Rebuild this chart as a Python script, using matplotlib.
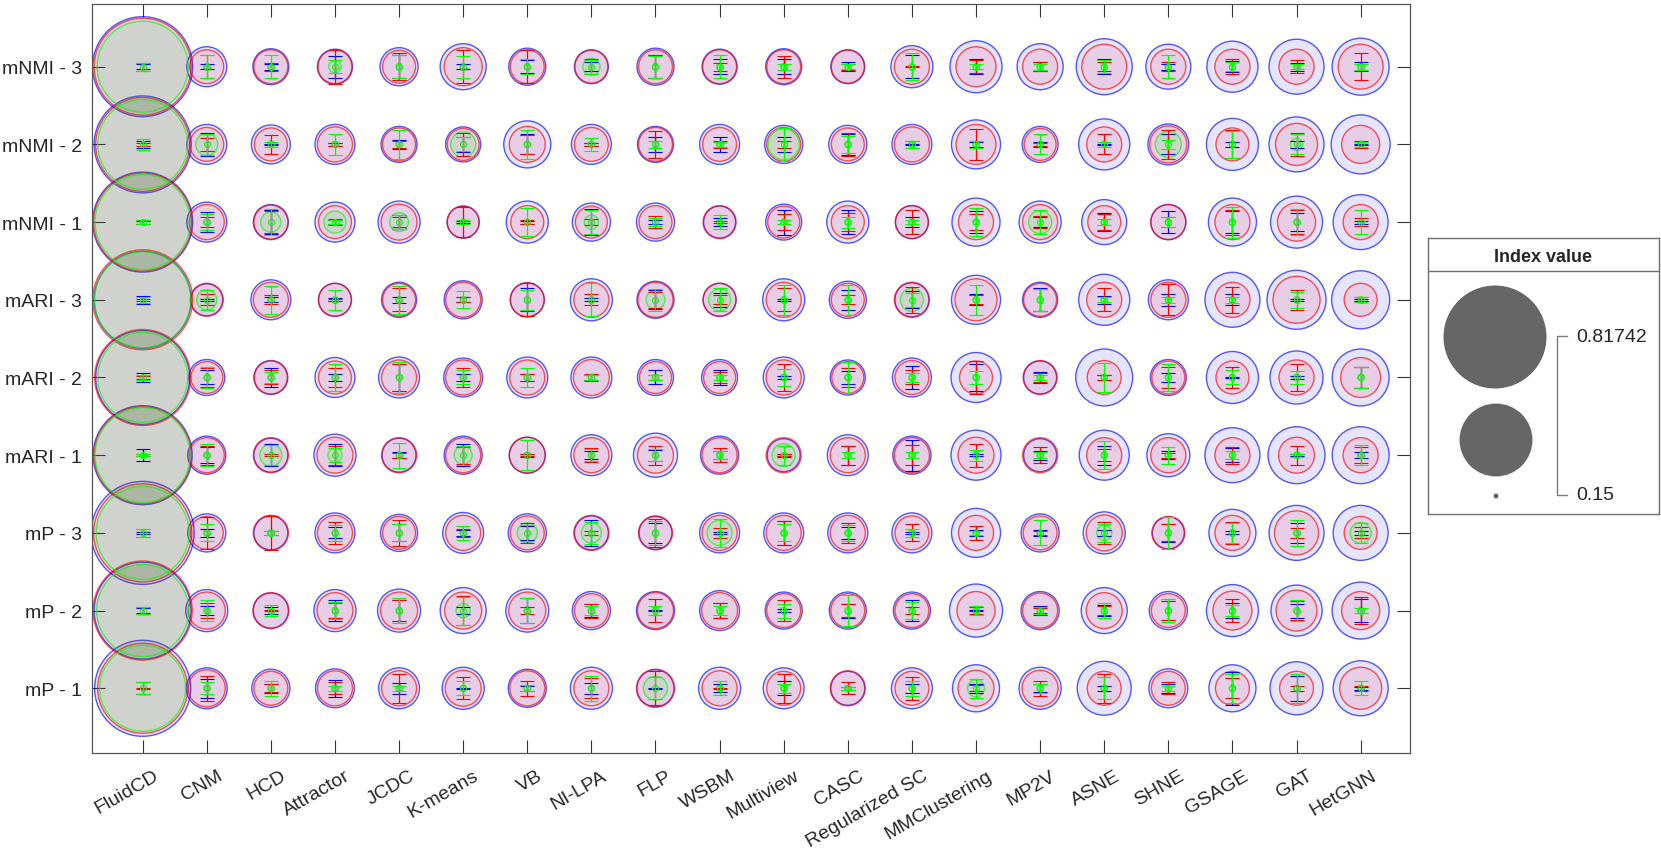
import numpy as np
import matplotlib.pyplot as plt
from matplotlib.transforms import ScaledTranslation

plt.rcParams['font.family'] = ['Liberation Sans', 'DejaVu Sans']

# methods along x, metrics along y (listed top to bottom)
methods = ["FluidCD", "CNM", "HCD", "Attractor", "JCDC", "K-means", "VB", "NI-LPA",
           "FLP", "WSBM", "Multiview", "CASC", "Regularized SC", "MMClustering",
           "MP2V", "ASNE", "SHNE", "GSAGE", "GAT", "HetGNN"]
metrics = ["mNMI - 3", "mNMI - 2", "mNMI - 1", "mARI - 3", "mARI - 2", "mARI - 1",
           "mP - 3", "mP - 2", "mP - 1"]

# index values (bubble size), one row per metric
blue_val = [
    [0.779, 0.249, 0.230, 0.226, 0.240, 0.282, 0.235, 0.221, 0.235, 0.226, 0.230, 0.221, 0.260, 0.319, 0.282, 0.346, 0.276, 0.313, 0.339, 0.353],
    [0.742, 0.249, 0.244, 0.249, 0.230, 0.226, 0.288, 0.249, 0.230, 0.249, 0.240, 0.240, 0.249, 0.300, 0.230, 0.313, 0.254, 0.319, 0.339, 0.368],
    [0.779, 0.249, 0.226, 0.249, 0.260, 0.213, 0.260, 0.240, 0.240, 0.213, 0.230, 0.260, 0.217, 0.294, 0.260, 0.276, 0.226, 0.294, 0.319, 0.339],
    [0.742, 0.213, 0.249, 0.217, 0.226, 0.240, 0.221, 0.260, 0.235, 0.217, 0.260, 0.235, 0.221, 0.300, 0.226, 0.313, 0.249, 0.339, 0.368, 0.361],
    [0.706, 0.230, 0.221, 0.249, 0.254, 0.244, 0.254, 0.254, 0.230, 0.230, 0.254, 0.226, 0.244, 0.306, 0.217, 0.353, 0.230, 0.319, 0.326, 0.353],
    [0.767, 0.240, 0.221, 0.260, 0.221, 0.240, 0.230, 0.254, 0.271, 0.240, 0.217, 0.254, 0.240, 0.306, 0.217, 0.306, 0.265, 0.339, 0.353, 0.353],
    [0.81742, 0.240, 0.221, 0.249, 0.235, 0.254, 0.240, 0.221, 0.217, 0.249, 0.249, 0.249, 0.249, 0.300, 0.240, 0.260, 0.213, 0.288, 0.339, 0.339],
    [0.742, 0.260, 0.226, 0.260, 0.265, 0.282, 0.265, 0.240, 0.240, 0.249, 0.235, 0.235, 0.235, 0.326, 0.240, 0.282, 0.240, 0.319, 0.313, 0.353],
    [0.730, 0.254, 0.240, 0.244, 0.254, 0.260, 0.240, 0.260, 0.235, 0.260, 0.254, 0.221, 0.254, 0.288, 0.260, 0.332, 0.244, 0.288, 0.326, 0.339],
]
red_val = [
    [0.742, 0.221, 0.221, 0.221, 0.217, 0.240, 0.221, 0.217, 0.221, 0.221, 0.221, 0.217, 0.226, 0.249, 0.226, 0.276, 0.226, 0.226, 0.226, 0.276],
    [0.706, 0.221, 0.217, 0.226, 0.217, 0.213, 0.230, 0.221, 0.221, 0.221, 0.221, 0.217, 0.226, 0.249, 0.213, 0.226, 0.235, 0.217, 0.260, 0.240],
    [0.754, 0.226, 0.221, 0.217, 0.230, 0.213, 0.217, 0.213, 0.217, 0.217, 0.213, 0.217, 0.217, 0.226, 0.226, 0.217, 0.226, 0.226, 0.240, 0.226],
    [0.779, 0.217, 0.226, 0.217, 0.217, 0.226, 0.221, 0.226, 0.226, 0.217, 0.226, 0.217, 0.226, 0.260, 0.217, 0.226, 0.226, 0.226, 0.288, 0.217],
    [0.730, 0.213, 0.217, 0.217, 0.226, 0.226, 0.226, 0.230, 0.213, 0.213, 0.226, 0.213, 0.221, 0.217, 0.221, 0.221, 0.217, 0.217, 0.226, 0.249],
    [0.742, 0.226, 0.226, 0.230, 0.226, 0.226, 0.230, 0.226, 0.230, 0.226, 0.226, 0.226, 0.226, 0.230, 0.226, 0.226, 0.226, 0.226, 0.230, 0.226],
    [0.754, 0.217, 0.226, 0.226, 0.217, 0.226, 0.221, 0.226, 0.221, 0.226, 0.226, 0.226, 0.221, 0.226, 0.221, 0.230, 0.217, 0.226, 0.271, 0.217],
    [0.767, 0.235, 0.230, 0.230, 0.235, 0.235, 0.235, 0.221, 0.230, 0.230, 0.221, 0.221, 0.221, 0.240, 0.226, 0.230, 0.221, 0.244, 0.254, 0.240],
    [0.659, 0.235, 0.221, 0.226, 0.226, 0.230, 0.226, 0.226, 0.240, 0.226, 0.221, 0.226, 0.221, 0.230, 0.230, 0.221, 0.221, 0.221, 0.221, 0.260],
]
green_val = [
    [0.671, 0.151, 0.151, 0.158, 0.151, 0.151, 0.151, 0.167, 0.151, 0.151, 0.151, 0.151, 0.151, 0.151, 0.151, 0.151, 0.151, 0.151, 0.151, 0.151],
    [0.659, 0.179, 0.151, 0.151, 0.151, 0.188, 0.151, 0.151, 0.151, 0.151, 0.209, 0.151, 0.151, 0.151, 0.151, 0.151, 0.191, 0.151, 0.158, 0.151],
    [0.718, 0.151, 0.174, 0.179, 0.171, 0.151, 0.151, 0.161, 0.151, 0.151, 0.151, 0.151, 0.151, 0.151, 0.182, 0.151, 0.151, 0.151, 0.151, 0.151],
    [0.730, 0.174, 0.151, 0.151, 0.151, 0.151, 0.151, 0.151, 0.171, 0.179, 0.151, 0.151, 0.182, 0.151, 0.151, 0.151, 0.151, 0.151, 0.151, 0.151],
    [0.659, 0.151, 0.151, 0.151, 0.151, 0.151, 0.151, 0.151, 0.151, 0.151, 0.151, 0.151, 0.151, 0.151, 0.151, 0.151, 0.151, 0.151, 0.151, 0.151],
    [0.718, 0.151, 0.179, 0.161, 0.151, 0.169, 0.151, 0.151, 0.151, 0.151, 0.182, 0.151, 0.151, 0.151, 0.151, 0.151, 0.151, 0.151, 0.151, 0.151],
    [0.694, 0.151, 0.151, 0.151, 0.151, 0.151, 0.174, 0.174, 0.151, 0.188, 0.151, 0.151, 0.151, 0.151, 0.151, 0.163, 0.151, 0.151, 0.151, 0.176],
    [0.682, 0.151, 0.151, 0.151, 0.151, 0.161, 0.151, 0.151, 0.151, 0.151, 0.151, 0.151, 0.151, 0.151, 0.151, 0.151, 0.151, 0.151, 0.151, 0.151],
    [0.615, 0.151, 0.151, 0.151, 0.151, 0.151, 0.151, 0.151, 0.185, 0.151, 0.151, 0.151, 0.151, 0.167, 0.151, 0.151, 0.151, 0.151, 0.151, 0.151],
]

# spread (error bar half length)
blue_err = [
    [0.03, 0.03, 0.04, 0.14, 0.15, 0.03, 0.08, 0.06, 0.15, 0.10, 0.10, 0.06, 0.15, 0.10, 0.06, 0.10, 0.04, 0.07, 0.05, 0.06],
    [0.04, 0.15, 0.01, 0.02, 0.06, 0.10, 0.13, 0.02, 0.10, 0.10, 0.10, 0.14, 0.01, 0.03, 0.03, 0.01, 0.13, 0.03, 0.05, 0.01],
    [0.02, 0.13, 0.15, 0.03, 0.09, 0.01, 0.02, 0.17, 0.03, 0.05, 0.16, 0.15, 0.06, 0.14, 0.06, 0.12, 0.14, 0.14, 0.12, 0.02],
    [0.05, 0.01, 0.03, 0.02, 0.04, 0.03, 0.15, 0.02, 0.12, 0.09, 0.01, 0.13, 0.11, 0.07, 0.15, 0.05, 0.08, 0.07, 0.01, 0.01],
    [0.06, 0.09, 0.12, 0.04, 0.18, 0.04, 0.05, 0.03, 0.09, 0.10, 0.02, 0.08, 0.15, 0.17, 0.07, 0.03, 0.06, 0.01, 0.02, 0.14],
    [0.08, 0.10, 0.14, 0.14, 0.04, 0.14, 0.02, 0.05, 0.07, 0.05, 0.02, 0.12, 0.20, 0.01, 0.06, 0.12, 0.05, 0.09, 0.01, 0.04],
    [0.01, 0.05, 0.03, 0.07, 0.11, 0.04, 0.09, 0.17, 0.13, 0.01, 0.15, 0.08, 0.01, 0.04, 0.04, 0.04, 0.12, 0.02, 0.13, 0.03],
    [0.03, 0.06, 0.04, 0.13, 0.13, 0.05, 0.16, 0.08, 0.01, 0.10, 0.02, 0.09, 0.14, 0.01, 0.06, 0.07, 0.12, 0.10, 0.09, 0.15],
    [0.08, 0.12, 0.06, 0.11, 0.07, 0.01, 0.03, 0.07, 0.01, 0.05, 0.09, 0.02, 0.06, 0.06, 0.05, 0.03, 0.06, 0.21, 0.16, 0.02],
]
red_err = [
    [0.05, 0.15, 0.05, 0.22, 0.17, 0.21, 0.21, 0.10, 0.15, 0.05, 0.14, 0.04, 0.01, 0.08, 0.06, 0.06, 0.06, 0.10, 0.08, 0.17],
    [0.02, 0.08, 0.12, 0.02, 0.04, 0.15, 0.12, 0.02, 0.17, 0.05, 0.04, 0.15, 0.04, 0.20, 0.02, 0.13, 0.19, 0.18, 0.15, 0.04],
    [0.03, 0.06, 0.14, 0.04, 0.06, 0.19, 0.03, 0.04, 0.08, 0.01, 0.10, 0.12, 0.15, 0.10, 0.08, 0.10, 0.06, 0.16, 0.15, 0.05],
    [0.01, 0.07, 0.06, 0.01, 0.15, 0.03, 0.21, 0.07, 0.10, 0.06, 0.15, 0.06, 0.17, 0.06, 0.14, 0.15, 0.20, 0.17, 0.13, 0.03],
    [0.02, 0.12, 0.09, 0.12, 0.18, 0.12, 0.04, 0.05, 0.03, 0.07, 0.18, 0.12, 0.09, 0.21, 0.06, 0.03, 0.14, 0.13, 0.17, 0.13],
    [0.01, 0.12, 0.01, 0.12, 0.03, 0.11, 0.01, 0.09, 0.12, 0.09, 0.01, 0.12, 0.13, 0.15, 0.10, 0.08, 0.03, 0.11, 0.12, 0.10],
    [0.05, 0.21, 0.22, 0.14, 0.17, 0.05, 0.13, 0.03, 0.18, 0.06, 0.15, 0.13, 0.11, 0.09, 0.03, 0.14, 0.11, 0.14, 0.06, 0.07],
    [0.04, 0.10, 0.01, 0.10, 0.13, 0.19, 0.04, 0.09, 0.15, 0.10, 0.14, 0.08, 0.04, 0.04, 0.03, 0.06, 0.12, 0.15, 0.12, 0.17],
    [0.01, 0.16, 0.05, 0.08, 0.19, 0.14, 0.10, 0.13, 0.22, 0.01, 0.19, 0.08, 0.15, 0.04, 0.10, 0.19, 0.08, 0.13, 0.03, 0.03],
]
green_err = [
    [0.05, 0.15, 0.15, 0.08, 0.15, 0.14, 0.10, 0.09, 0.14, 0.15, 0.04, 0.03, 0.17, 0.03, 0.04, 0.08, 0.15, 0.06, 0.03, 0.04],
    [0.07, 0.14, 0.03, 0.14, 0.19, 0.09, 0.19, 0.08, 0.04, 0.03, 0.21, 0.11, 0.05, 0.04, 0.13, 0.03, 0.06, 0.17, 0.13, 0.03],
    [0.03, 0.10, 0.17, 0.03, 0.09, 0.03, 0.18, 0.15, 0.05, 0.09, 0.03, 0.07, 0.03, 0.18, 0.15, 0.04, 0.06, 0.20, 0.17, 0.15],
    [0.04, 0.13, 0.18, 0.13, 0.18, 0.11, 0.13, 0.21, 0.14, 0.15, 0.19, 0.19, 0.09, 0.19, 0.14, 0.03, 0.04, 0.04, 0.10, 0.03],
    [0.03, 0.14, 0.07, 0.17, 0.20, 0.09, 0.12, 0.03, 0.03, 0.03, 0.11, 0.20, 0.06, 0.08, 0.03, 0.19, 0.17, 0.09, 0.08, 0.14],
    [0.01, 0.14, 0.13, 0.09, 0.16, 0.12, 0.19, 0.08, 0.08, 0.05, 0.12, 0.04, 0.04, 0.07, 0.04, 0.18, 0.11, 0.05, 0.02, 0.13],
    [0.05, 0.11, 0.03, 0.10, 0.11, 0.09, 0.10, 0.14, 0.15, 0.18, 0.11, 0.10, 0.05, 0.03, 0.16, 0.12, 0.21, 0.13, 0.17, 0.13],
    [0.04, 0.13, 0.07, 0.11, 0.16, 0.18, 0.16, 0.06, 0.06, 0.06, 0.09, 0.20, 0.11, 0.06, 0.05, 0.10, 0.15, 0.07, 0.14, 0.03],
    [0.08, 0.08, 0.10, 0.03, 0.03, 0.09, 0.04, 0.16, 0.14, 0.09, 0.06, 0.02, 0.10, 0.12, 0.06, 0.14, 0.03, 0.19, 0.19, 0.09],
]

size_limits = (0.15, 0.81742)
DPI = 100
dia_range = (5, 103)  # bubble diameter in pixels at the two size limits


def bubble_area(v):
    # bubble area grows linearly with the value (bubblechart style)
    v = np.clip(np.asarray(v, dtype=float), *size_limits)
    a0, a1 = dia_range[0] ** 2, dia_range[1] ** 2
    frac = (v - size_limits[0]) / (size_limits[1] - size_limits[0])
    d = np.sqrt(a0 + frac * (a1 - a0))
    return (d * 72 / DPI) ** 2


fig = plt.figure(figsize=(16.61, 8.54), dpi=DPI)
W, H = 1661, 854
ax = fig.add_axes([92 / W, 1 - 754 / H, (1410 - 92) / W, (754 - 5) / H])

xs = np.arange(1, len(methods) + 1)
ys = len(metrics) - np.arange(len(metrics))
X, Y = np.meshgrid(xs, ys)

series = [((0, 0, 1), blue_val, blue_err),
          ((1, 0, 0), red_val, red_err),
          ((0, 1, 0), green_val, green_err)]

for c, val, err in series:
    ax.scatter(X.ravel(), Y.ravel(), s=bubble_area(np.ravel(val)),
               facecolors=[(*c, 0.1)], edgecolors=[(*c, 0.65)],
               linewidths=1.0, zorder=2)

for c, val, err in series:
    is_green = c == (0, 1, 0)
    ax.errorbar(X.ravel(), Y.ravel(), yerr=np.ravel(err),
                fmt='o' if is_green else 'none', ms=4.3, mfc='none', mec=c, mew=0.8,
                ecolor=c, elinewidth=0.9, capsize=4.7, capthick=0.9, zorder=3)

ax.set_xlim(0.21, 20.77)
ax.set_ylim(0.167, 9.807)
ax.set_xticks(xs, methods)
ax.set_yticks(ys, metrics)
for sp in ax.spines.values():
    sp.set_color('#555555')
    sp.set_linewidth(0.9)
ax.tick_params(direction='in', length=9.4, width=0.8, color='#333333',
               top=True, right=True, labelsize=14, labelcolor='#262626')
ax.tick_params(axis='y', pad=7)
ax.tick_params(axis='x', pad=10)

shift = ScaledTranslation(10 / DPI, 0, fig.dpi_scale_trans)
for lab in ax.get_xticklabels():
    lab.set_rotation(30)
    lab.set_ha('right')
    lab.set_va('top')
    lab.set_rotation_mode('anchor')
    lab.set_transform(lab.get_transform() + shift)

# size legend box
lx0, ly0, lx1, ly1 = 1428, 239, 1659, 515
lax = fig.add_axes([lx0 / W, 1 - ly1 / H, (lx1 - lx0) / W, (ly1 - ly0) / H])
lax.set_xlim(0, lx1 - lx0)
lax.set_ylim(ly1 - ly0, 0)
lax.set_xticks([])
lax.set_yticks([])
for sp in lax.spines.values():
    sp.set_color('#6e6e6e')
    sp.set_linewidth(1.0)
lax.axhline(32.7, color='#6e6e6e', lw=1.0)
lax.text((lx1 - lx0) / 2, 18, "Index value", ha='center', va='center',
         fontsize=13, fontweight='bold', color='#262626')

leg_vals = [size_limits[1], (size_limits[0] + size_limits[1]) / 2, size_limits[0]]
lax.scatter([67, 68, 68], [99, 202, 258], s=bubble_area(leg_vals), color='#666666',
            edgecolors='none', zorder=2)
lax.plot([139, 128.7, 128.7, 139], [98, 98, 257, 257], color='#7a7a7a', lw=1.0)
lax.text(148, 98, "0.81742", ha='left', va='center', fontsize=14, color='#262626')
lax.text(148, 257, "0.15", ha='left', va='center', fontsize=14, color='#262626')

fig.savefig("out.png", dpi=DPI)
